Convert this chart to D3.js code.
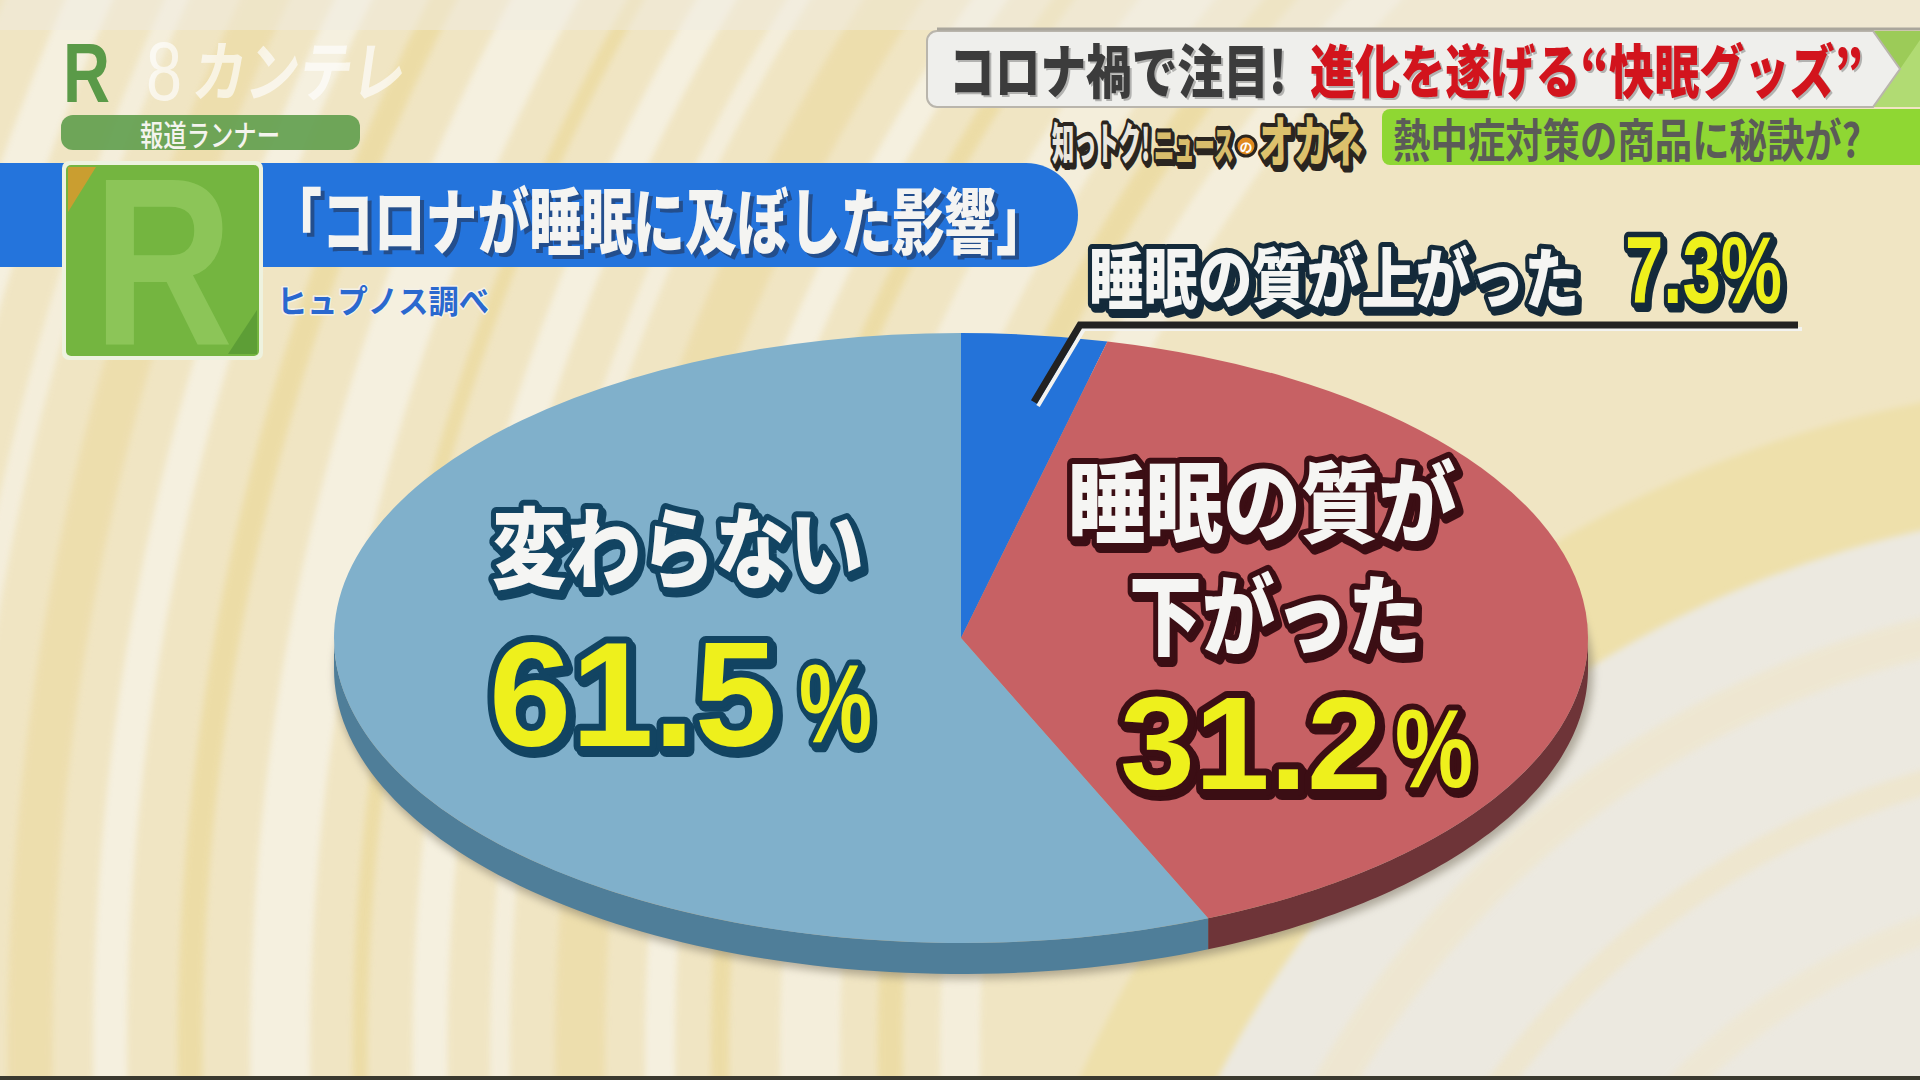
<!DOCTYPE html>
<html><head><meta charset="utf-8">
<script src="https://cdn.jsdelivr.net/npm/d3@7"></script>
<style>html,body{margin:0;padding:0;background:#efe5c4;overflow:hidden}svg{display:block}</style>
</head><body>
<script>
// ---------------- DATA ----------------
const categories = ["睡眠の質が上がった", "睡眠の質が下がった", "変わらない"];
const categoryLines = [["睡眠の質が上がった"], ["睡眠の質が", "下がった"], ["変わらない"]];
const values = [7.3, 31.2, 61.5];
const titleText = "「コロナが睡眠に及ぼした影響」";
const sourceText = "ヒュプノス調べ";
const bannerDark = "コロナ禍で注目!";
const bannerRed = "進化を遂げる“快眠グッズ”";
const subBanner = "熱中症対策の商品に秘訣が?";
const cornerLabel = "報道ランナー";

// ---------------- STYLE / LAYOUT ----------------
const W = 1920, H = 1080;
const JP = "'Noto Sans CJK JP','Noto Sans CJK SC',sans-serif";
const NUM = "'Liberation Sans',Arial,sans-serif";
const topColors = ["#2473d9", "#c76164", "#80b0cb"];
const sideColors = ["#1a4f95", "#6e3438", "#4f7e99"];
const strokeColors = ["#142a3a", "#3b0e14", "#124462"];
const YELLOW = "#eef01c", WHITE = "#f5f5f3";
const cx = 961, cy = 638, rx = 627, ry = 305, depth = 31;

const svg = d3.select("body").append("svg").attr("width", W).attr("height", H);
const defs = svg.append("defs");
defs.append("filter").attr("id", "blur").attr("x", "-10%").attr("y", "-10%").attr("width", "120%").attr("height", "130%")
  .append("feGaussianBlur").attr("stdDeviation", 4);
defs.append("filter").attr("id", "blur2").append("feGaussianBlur").attr("stdDeviation", 3);

// ---------------- BACKGROUND ----------------
const bg = svg.append("g");
bg.append("rect").attr("width", W).attr("height", H).attr("fill", "#f0e5c3");
const leftC = [2500, 1050];
const streaks = [
  [1540, 40, "#f5f0e0"], [1610, 25, "#ecdba2"], [1690, 60, "#f5f0e0"], [1780, 18, "#ecdba2"],
  [1840, 30, "#f6f2e4"], [1920, 50, "#edddaa"], [2000, 20, "#f5f0e0"], [2070, 35, "#f6f2e4"],
  [2140, 15, "#ecdba2"], [2220, 60, "#f6f2e4"], [2310, 25, "#ecdba2"], [2390, 34, "#f6f2e4"],
  [2470, 45, "#edddaa"], [2550, 22, "#f5f0e0"], [2630, 44, "#f6f2e4"], [2720, 25, "#ecdba2"],
  [2800, 50, "#f5f0e0"]
];
bg.selectAll("circle.streak").data(streaks).join("circle").attr("class", "streak")
  .attr("cx", leftC[0]).attr("cy", leftC[1]).attr("r", d => d[0])
  .attr("fill", "none").attr("stroke", d => d[2]).attr("stroke-width", d => d[1]).attr("opacity", 0.85)
  .attr("filter", "url(#blur2)");
const rightC = [2150, 1550];
bg.append("circle").attr("cx", rightC[0]).attr("cy", rightC[1]).attr("r", 1170).attr("fill", "#eee0ab").attr("filter", "url(#blur2)");
bg.append("circle").attr("cx", rightC[0]).attr("cy", rightC[1]).attr("r", 1045).attr("fill", "#ece9e0").attr("filter", "url(#blur2)");
[[940, 40, "#efe6cc"], [800, 25, "#efe5c8"], [660, 30, "#efe7d0"]].forEach(d => {
  bg.append("circle").attr("cx", rightC[0]).attr("cy", rightC[1]).attr("r", d[0])
    .attr("fill", "none").attr("stroke", d[2]).attr("stroke-width", d[1]).attr("opacity", 0.7).attr("filter", "url(#blur2)");
});
bg.append("rect").attr("x", 0).attr("y", 0).attr("width", W).attr("height", 30).attr("fill", "#efebe2").attr("opacity", 0.5);
bg.append("rect").attr("x", 0).attr("y", H - 4).attr("width", W).attr("height", 4).attr("fill", "#3a392f");

// ---------------- PIE ----------------
const pie = d3.pie().sort(null).value(d => d)(values);
function toParam(phi) {
  if (phi <= 1e-9) return 0;
  if (phi >= 2 * Math.PI - 1e-9) return 2 * Math.PI;
  let t = Math.atan2(ry * Math.sin(phi), rx * Math.cos(phi));
  if (t < 0) t += 2 * Math.PI;
  return t;
}
const slices = pie.map((p, i) => ({ i, t0: toParam(p.startAngle), t1: toParam(p.endAngle), value: p.value }));
const pieG = svg.append("g");
pieG.append("ellipse").attr("cx", cx + 3).attr("cy", cy + depth + 5).attr("rx", rx + 2).attr("ry", ry)
  .attr("fill", "#7d7564").attr("opacity", 0.55).attr("filter", "url(#blur)");
function sidePath(t0, t1) {
  const a = Math.max(t0, Math.PI / 2), b = Math.min(t1, 3 * Math.PI / 2);
  if (a >= b) return null;
  const n = 80;
  const top = d3.range(n + 1).map(k => { const t = a + (b - a) * k / n; return [cx + rx * Math.sin(t), cy - ry * Math.cos(t)]; });
  const bot = top.slice().reverse().map(([x, y]) => [x, y + depth]);
  return d3.line()(top.concat(bot)) + "Z";
}
pieG.selectAll("path.side").data(slices.filter(s => sidePath(s.t0, s.t1))).join("path").attr("class", "side")
  .attr("d", s => sidePath(s.t0, s.t1)).attr("fill", s => sideColors[s.i]);
const arc = d3.arc().innerRadius(0).outerRadius(rx);
const topG = pieG.append("g").attr("transform", `translate(${cx},${cy}) scale(1,${ry / rx})`);
topG.selectAll("path.top").data(slices).join("path").attr("class", "top")
  .attr("d", s => arc({ startAngle: s.t0, endAngle: s.t1 })).attr("fill", s => topColors[s.i]);

// ---------------- LABEL HELPERS ----------------
function outlined(g, o) {
  const mk = (dx, dy, fill) => g.append("text")
    .attr("x", o.x + dx).attr("y", o.y + dy)
    .attr("font-family", o.family || JP).attr("font-weight", o.weight || 900).attr("font-size", o.size)
    .attr("dominant-baseline", o.baseline || "central").attr("text-anchor", o.anchor || "start")
    .attr("textLength", o.len).attr("lengthAdjust", "spacingAndGlyphs")
    .attr("fill", fill).attr("stroke", o.stroke).attr("stroke-width", o.sw)
    .attr("stroke-linejoin", "round").attr("paint-order", "stroke").text(o.text);
  if (o.shadow !== false) mk(o.sdx || 3, o.sdy || 4, o.stroke);
  return mk(0, 0, o.fill);
}
const fmt = d3.format(".1f");
const labelsG = svg.append("g");

outlined(labelsG, { x: 492, y: 542, text: categoryLines[2][0], size: 88, len: 372, fill: WHITE, stroke: strokeColors[2], sw: 12 });
outlined(labelsG, { x: 489, y: 746, text: fmt(values[2]), size: 148, len: 288, fill: YELLOW, stroke: strokeColors[2], sw: 14, family: NUM, weight: 700, baseline: "alphabetic" });
outlined(labelsG, { x: 799, y: 742, text: "%", size: 112, len: 73, fill: YELLOW, stroke: strokeColors[2], sw: 12, family: NUM, weight: 700, baseline: "alphabetic" });

outlined(labelsG, { x: 1068, y: 496, text: categoryLines[1][0], size: 88, len: 388, fill: WHITE, stroke: strokeColors[1], sw: 12 });
outlined(labelsG, { x: 1129, y: 609, text: categoryLines[1][1], size: 88, len: 292, fill: WHITE, stroke: strokeColors[1], sw: 12 });
outlined(labelsG, { x: 1120, y: 789, text: fmt(values[1]), size: 132, len: 262, fill: YELLOW, stroke: strokeColors[1], sw: 14, family: NUM, weight: 700, baseline: "alphabetic" });
outlined(labelsG, { x: 1395, y: 787, text: "%", size: 112, len: 78, fill: YELLOW, stroke: strokeColors[1], sw: 12, family: NUM, weight: 700, baseline: "alphabetic" });

const lead = svg.append("g");
const leadPts = [[1034, 402], [1080, 325], [1798, 325]];
lead.append("path").attr("d", d3.line()(leadPts.map(([x, y]) => [x + 4, y + 4]))).attr("fill", "none")
  .attr("stroke", "#f3f3f0").attr("stroke-width", 4).attr("stroke-linejoin", "round");
lead.append("path").attr("d", d3.line()(leadPts)).attr("fill", "none")
  .attr("stroke", "#222222").attr("stroke-width", 7).attr("stroke-linejoin", "miter");
outlined(labelsG, { x: 1089, y: 274, text: categoryLines[0][0], size: 66, len: 490, fill: WHITE, stroke: strokeColors[0], sw: 10 });
outlined(labelsG, { x: 1625, y: 303, text: fmt(values[0]) + "%", size: 94, len: 157, fill: YELLOW, stroke: strokeColors[0], sw: 11, family: NUM, weight: 700, baseline: "alphabetic" });

// ---------------- HEADER: left ----------------
const hdr = svg.append("g");
hdr.append("path").attr("d", "M0,163 H1026 A52,52 0 0 1 1026,267 H0 Z").attr("fill", "#2474dc");
hdr.append("text").attr("x", 274).attr("y", 220).attr("font-family", JP).attr("font-weight", 900).attr("font-size", 72)
  .attr("dominant-baseline", "central").attr("textLength", 778).attr("lengthAdjust", "spacingAndGlyphs")
  .attr("fill", "#23457a").attr("opacity", 0.8).text(titleText);
hdr.append("text").attr("x", 270).attr("y", 216).attr("font-family", JP).attr("font-weight", 900).attr("font-size", 72)
  .attr("dominant-baseline", "central").attr("textLength", 778).attr("lengthAdjust", "spacingAndGlyphs")
  .attr("fill", "#f4f4f2").text(titleText);
outlined(hdr, { x: 277, y: 299, text: sourceText, size: 32, len: 212, fill: "#2a68cf", stroke: "#f4f1e6", sw: 3, shadow: false, weight: 700 });

hdr.append("text").attr("x", 63).attr("y", 102).attr("font-family", NUM).attr("font-weight", 700).attr("font-size", 84)
  .attr("textLength", 47).attr("lengthAdjust", "spacingAndGlyphs").attr("fill", "#5a9a48").text("R");
hdr.append("text").attr("x", 146).attr("y", 100).attr("font-family", NUM).attr("font-weight", 400).attr("font-size", 84)
  .attr("textLength", 36).attr("lengthAdjust", "spacingAndGlyphs").attr("fill", "#ffffff").attr("opacity", 0.65).text("8");
hdr.append("text").attr("x", 192).attr("y", 96).attr("font-family", JP).attr("font-weight", 700).attr("font-size", 66)
  .attr("textLength", 212).attr("lengthAdjust", "spacingAndGlyphs").attr("fill", "#ffffff").attr("opacity", 0.65)
  .attr("transform", "skewX(-8) translate(12,0)").text("カンテレ");
hdr.append("rect").attr("x", 61).attr("y", 115).attr("width", 299).attr("height", 35).attr("rx", 12).attr("fill", "#5f9d4c").attr("opacity", 0.9);
hdr.append("text").attr("x", 210).attr("y", 133).attr("text-anchor", "middle").attr("dominant-baseline", "central")
  .attr("font-family", JP).attr("font-weight", 500).attr("font-size", 30).attr("textLength", 140).attr("lengthAdjust", "spacingAndGlyphs")
  .attr("fill", "#f4f4ee").text(cornerLabel);
const sq = hdr.append("g");
sq.append("rect").attr("x", 62).attr("y", 161).attr("width", 201).attr("height", 199).attr("rx", 7).attr("fill", "#eef2df");
sq.append("rect").attr("x", 66).attr("y", 165).attr("width", 193).attr("height", 191).attr("rx", 5).attr("fill", "#74b540");
sq.append("path").attr("d", "M68,167 L96,167 L68,212 Z").attr("fill", "#d99a2e").attr("opacity", 0.85);
sq.append("path").attr("d", "M257,310 L257,354 L228,354 Z").attr("fill", "#4e8f30").attr("opacity", 0.6);
sq.append("text").attr("x", 93).attr("y", 345).attr("font-family", NUM).attr("font-weight", 700).attr("font-size", 240)
  .attr("textLength", 140).attr("lengthAdjust", "spacingAndGlyphs").attr("fill", "#94cb61").attr("opacity", 0.75).text("R");

// ---------------- HEADER: right ----------------
const rh = svg.append("g");
rh.append("path").attr("d", "M1873,31 L1920,31 L1920,107 L1873,107 L1900,69 Z").attr("fill", "#9ccb58");
rh.append("path").attr("d", "M1900,69 L1920,40 L1920,107 L1873,107 Z").attr("fill", "#b6de7a").attr("opacity", 0.8);
rh.append("path").attr("d", "M937,31 H1873 L1900,69 L1873,107 H937 A10,10 0 0 1 927,97 V41 A10,10 0 0 1 937,31 Z")
  .attr("fill", "#efefec").attr("stroke", "#b9b5ac").attr("stroke-width", 2);
rh.append("line").attr("x1", 937).attr("x2", 1920).attr("y1", 29).attr("y2", 29).attr("stroke", "#aaa69c").attr("stroke-width", 3);
const bannerText = (x, len, txt, fill) => {
  rh.append("text").attr("x", x + 2).attr("y", 70).attr("dominant-baseline", "central").attr("font-family", JP).attr("font-weight", 900)
    .attr("font-size", 58).attr("textLength", len).attr("lengthAdjust", "spacingAndGlyphs").attr("fill", "#000").attr("opacity", 0.25).text(txt);
  rh.append("text").attr("x", x).attr("y", 68).attr("dominant-baseline", "central").attr("font-family", JP).attr("font-weight", 900)
    .attr("font-size", 58).attr("textLength", len).attr("lengthAdjust", "spacingAndGlyphs").attr("fill", fill).text(txt);
};
bannerText(949, 338, bannerDark, "#3c3c3c");
bannerText(1310, 553, bannerRed, "#d2141d");

rh.append("path").attr("d", "M1390,109 H1920 V165 H1390 A8,8 0 0 1 1382,157 V117 A8,8 0 0 1 1390,109 Z").attr("fill", "#8fd733");
rh.append("text").attr("x", 1393).attr("y", 137).attr("dominant-baseline", "central").attr("font-family", JP).attr("font-weight", 700)
  .attr("font-size", 46).attr("textLength", 468).attr("lengthAdjust", "spacingAndGlyphs").attr("fill", "#5b5b58").text(subBanner);

const lg = rh.append("g");
const logoPart = (x, y, len, size, txt, fill) => outlined(lg, { x, y, text: txt, size, len, fill, stroke: "#2a2520", sw: 8, sdx: 2, sdy: 3 });
logoPart(1052, 141, 98, 44, "知っトク!", "#e9e6de");
logoPart(1154, 143, 80, 40, "ニュース", "#d8bd6c");
lg.append("circle").attr("cx", 1246).attr("cy", 146).attr("r", 10).attr("fill", "#e08a20").attr("stroke", "#2a2520").attr("stroke-width", 3);
lg.append("text").attr("x", 1246).attr("y", 146).attr("text-anchor", "middle").attr("dominant-baseline", "central")
  .attr("font-family", JP).attr("font-weight", 700).attr("font-size", 13).attr("fill", "#fff").text("の");
logoPart(1259, 138, 104, 54, "オカネ", "#dcc16c");
</script>
</body></html>
